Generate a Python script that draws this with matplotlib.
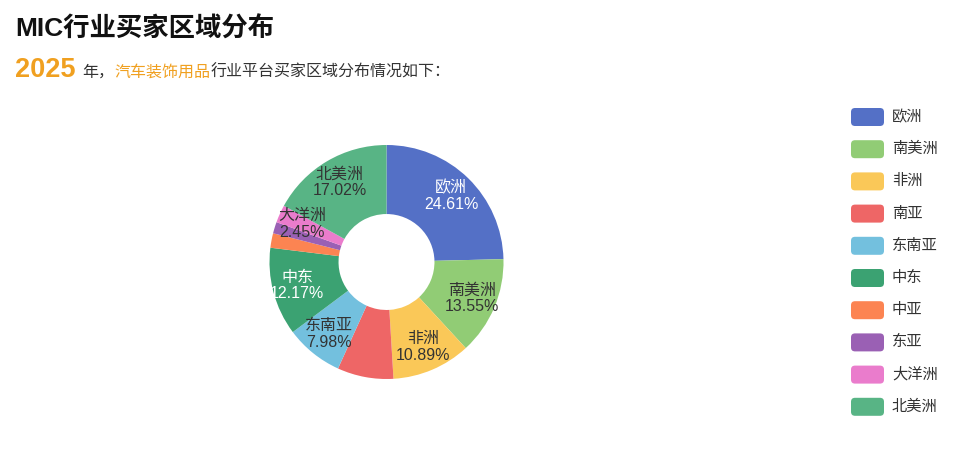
import numpy as np
import matplotlib
matplotlib.use("Agg")
import matplotlib.pyplot as plt
from matplotlib.patches import FancyBboxPatch

plt.rcParams['font.family'] = ['Liberation Sans', 'Noto Sans CJK SC', 'DejaVu Sans']

# ---- data ----
categories = ['欧洲', '南美洲', '非洲', '南亚', '东南亚', '中东', '中亚', '东亚', '大洋洲', '北美洲']
values = [24.61, 13.55, 10.89, 7.75, 7.98, 12.17, 2.00, 1.58, 2.45, 17.02]
show_label = [True, True, True, False, True, True, False, False, True, True]
colors = ['#5470c6', '#91cc75', '#fac858', '#ee6666', '#73c0de',
          '#3ba272', '#fc8452', '#9a60b4', '#ea7ccc', '#58b485']
title = 'MIC行业买家区域分布'
year = '2025'
industry = '汽车装饰用品'

W, H = 975, 457
fig = plt.figure(figsize=(W / 100, H / 100), dpi=100)
fig.patch.set_facecolor('white')

# ---- donut ----
cx, cy, R = 386.5, 262, 117
ax = fig.add_axes([(cx - R) / W, (H - cy - R) / H, 2 * R / W, 2 * R / H])
inner = 0.41
wedges, _ = ax.pie(values, colors=colors, startangle=90, counterclock=False,
                   radius=1, wedgeprops=dict(width=1 - inner, linewidth=0))
ax.set_xlim(-1, 1)
ax.set_ylim(-1, 1)
ax.set_aspect('equal')
ax.axis('off')


def lum(c):
    r, g, b = matplotlib.colors.to_rgb(c)
    return 0.299 * r + 0.587 * g + 0.114 * b


total = sum(values)
cum = 0
for v, name, show, c in zip(values, categories, show_label, colors):
    mid = cum + v / 2
    cum += v
    if not show:
        continue
    ang = np.deg2rad(90 - 360 * mid / total)
    rl = 0.79
    x, y = rl * np.cos(ang), rl * np.sin(ang)
    tc = 'white' if lum(c) < 0.52 else '#333333'
    ax.text(x, y, f'{name}\n{v:.2f}%', ha='center', va='center', fontsize=11.5,
            color=tc, linespacing=1.1)

# ---- titles ----
fig.text(15 / W, 1 - 29 / H, title, fontsize=19, fontweight='bold', color='#111111',
         ha='left', va='center')

renderer = fig.canvas.get_renderer()
x0 = 15 / W
yb = 1 - 77 / H
parts = [(year, 19.5, 'bold', '#f0a020', 7),
         ('年，', 11.5, 'normal', '#333333', 0),
         (industry, 11.5, 'normal', '#f0a020', 0),
         ('行业平台买家区域分布情况如下：', 11.5, 'normal', '#333333', 0)]
for txt, fs, fw, col, gap in parts:
    t = fig.text(x0, yb, txt, fontsize=fs, fontweight=fw, color=col, ha='left', va='baseline')
    bb = t.get_window_extent(renderer)
    x0 += (bb.width + gap) / W

# ---- legend ----
ly0, dy = 117, 32.2
for i, (name, c) in enumerate(zip(categories, colors)):
    yc = ly0 + i * dy
    bw, bh = 33, 18
    p = FancyBboxPatch(((851) / W, (H - yc - bh / 2) / H), bw / W, bh / H,
                       boxstyle=f'round,pad=0,rounding_size={4 / W}',
                       transform=fig.transFigure, facecolor=c, edgecolor='none',
                       mutation_aspect=W / H)
    fig.patches.append(p)
    fig.text(892 / W, (H - yc) / H, name, fontsize=11, color='#333333',
             ha='left', va='center')

fig.savefig('out.png', dpi=100, facecolor='white')
